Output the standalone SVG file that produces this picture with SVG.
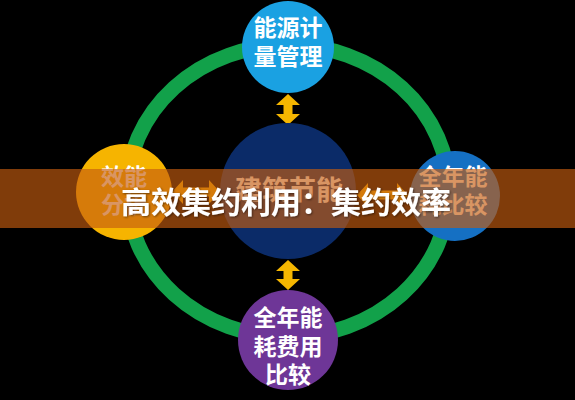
<svg xmlns="http://www.w3.org/2000/svg" width="575" height="400" viewBox="0 0 575 400">
  <defs>
    <style>
      .lbl { font-family: "Noto Sans CJK SC", "Noto Sans", sans-serif; font-weight: bold; fill: #ffffff; text-anchor: middle; }
      .node { font-size: 23px; }
      .arrow { fill: #f5b600; }
    </style>
    <filter id="sh" x="-10%" y="-30%" width="120%" height="160%">
      <feDropShadow dx="1" dy="1" stdDeviation="1" flood-color="#000" flood-opacity="0.5"/>
    </filter>
  </defs>
  <rect x="0" y="0" width="575" height="400" fill="#000000"/>

  <g id="connectors">
    <ellipse cx="288" cy="191" rx="161" ry="146" fill="none" stroke="#12a14a" stroke-width="15"/>
    <path class="arrow" d="M288,94 L300,105 L292.5,105 L292.5,114 L300,114 L288,125 L276,114 L283.5,114 L283.5,105 L276,105 Z"/>
    <path class="arrow" d="M288,260 L300,271 L292.5,271 L292.5,279 L300,279 L288,290 L276,279 L283.5,279 L283.5,271 L276,271 Z"/>
    <path class="arrow" d="M172,192 L183,180 L183,187.5 L209,187.5 L209,180 L220,192 L209,204 L209,196.5 L183,196.5 L183,204 Z"/>
    <path class="arrow" d="M357,195 L368,183 L368,190.5 L397,190.5 L397,183 L408,195 L397,207 L397,199.5 L368,199.5 L368,207 Z"/>
  </g>

  <g id="node-top">
    <circle cx="288" cy="47" r="46" fill="#1aa1e2"/>
    <text class="lbl node" x="288" y="36">能源计</text>
    <text class="lbl node" x="288" y="65">量管理</text>
  </g>

  <g id="node-center">
    <circle cx="288" cy="191" r="68" fill="#0b2b68"/>
    <text class="lbl" x="289" y="200" font-size="27">建筑节能</text>
  </g>

  <g id="node-left">
    <circle cx="124" cy="192" r="48" fill="#f6b400"/>
    <text class="lbl node" x="124" y="185">效能</text>
    <text class="lbl node" x="124" y="213">分析</text>
  </g>

  <g id="node-right">
    <circle cx="455" cy="196" r="45" fill="#1570c3"/>
    <text class="lbl node" x="453" y="185">全年能</text>
    <text class="lbl node" x="453" y="213">耗比较</text>
  </g>

  <g id="node-bottom">
    <circle cx="288" cy="340" r="50" fill="#6e3697"/>
    <text class="lbl node" x="288" y="326">全年能</text>
    <text class="lbl node" x="288" y="355">耗费用</text>
    <text class="lbl node" x="288" y="383">比较</text>
  </g>

  <g id="banner">
    <rect x="0" y="169" width="575" height="59" fill="#c45c10" fill-opacity="0.65"/>
    <text class="lbl" x="286" y="213" font-size="30" filter="url(#sh)">高效集约利用：集约效率</text>
  </g>
</svg>
